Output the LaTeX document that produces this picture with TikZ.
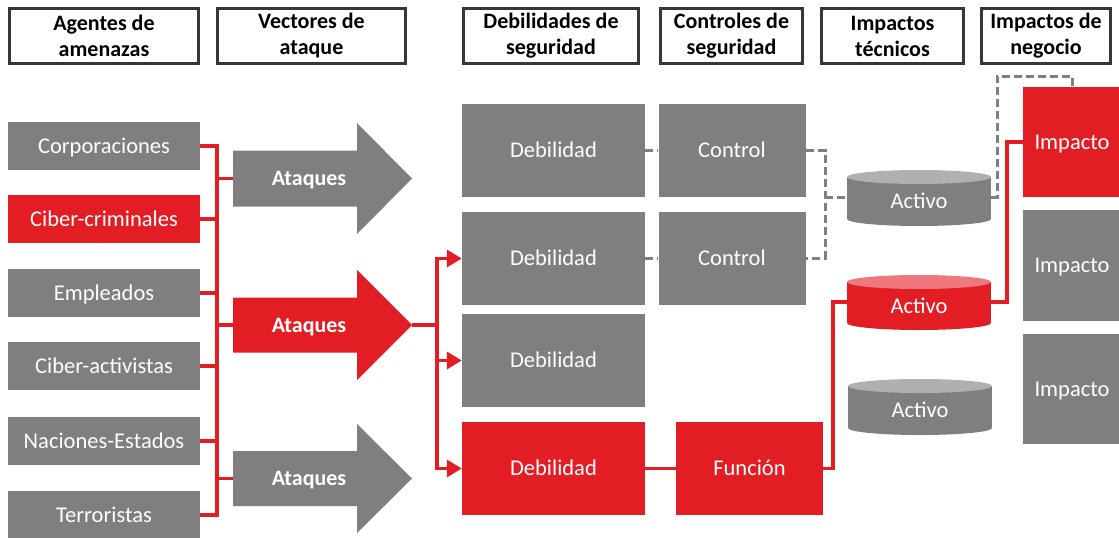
\documentclass[tikz,border=0pt]{standalone}
\usepackage{fontspec}
\setmainfont{Carlito}
\usetikzlibrary{arrows.meta}
\definecolor{cgray}{RGB}{127,127,127}
\definecolor{cred}{RGB}{226,30,36}
\definecolor{cgraytop}{RGB}{176,176,176}
\definecolor{credtop}{RGB}{238,120,125}
\definecolor{chdr}{RGB}{55,55,55}
\begin{document}
\begin{tikzpicture}[x=1pt,y=-1pt,
  hdr/.style={draw=chdr,line width=3pt,fill=white,text=black,font=\fontsize{22}{26}\selectfont\bfseries,align=center,inner sep=0pt},
  gbox/.style={fill=cgray,text=white,font=\fontsize{22.5}{27}\selectfont,inner sep=0pt,text height=14.5pt,text depth=0pt},
  rbox/.style={gbox,fill=cred},
  atext/.style={text=white,font=\fontsize{22}{26}\selectfont\bfseries,inner sep=0pt,text height=14.2pt,text depth=0pt},
  ctext/.style={text=white,font=\fontsize{22.5}{27}\selectfont,inner sep=0pt,text height=14.5pt,text depth=0pt},
  redline/.style={draw=cred,line width=3.5pt},
  redarrow/.style={redline,-{Triangle[length=15pt,width=17pt]}},
  dashline/.style={draw=cgray,line width=3pt,dash pattern=on 8pt off 4pt},
]
\useasboundingbox (0,0) rectangle (1119,538);

% headers
\node[hdr,minimum width=189pt,minimum height=55pt] (h1) at (104,36) {Agentes de\\amenazas};
\node[hdr,minimum width=188pt,minimum height=55pt] (h2) at (311.5,36) {Vectores de\\ataque};
\node[hdr,minimum width=175pt,minimum height=55pt] (h3) at (551,36) {Debilidades de\\seguridad};
\node[hdr,minimum width=142pt,minimum height=55pt] (h4) at (731.5,36) {Controles de\\seguridad};
\node[hdr,minimum width=142pt,minimum height=55pt] (h5) at (892.5,36) {Impactos\\técnicos};
\node[hdr,minimum width=129pt,minimum height=55pt] (h6) at (1046,36) {Impactos de\\negocio};

% agents
\node[gbox,minimum width=192pt,minimum height=48pt] (l1) at (104,146) {Corporaciones};
\node[rbox,minimum width=192pt,minimum height=48pt] (l2) at (104,219) {Ciber-criminales};
\node[gbox,minimum width=192pt,minimum height=48pt] (l3) at (104,293) {Empleados};
\node[gbox,minimum width=192pt,minimum height=48pt] (l4) at (104,366) {Ciber-activistas};
\node[gbox,minimum width=192pt,minimum height=48pt] (l5) at (104,441) {Naciones-Estados};
\node[gbox,minimum width=192pt,minimum height=48pt] (l6) at (104,515) {Terroristas};

% attack arrows
\fill[cgray] (233,150.5) -- (357,150.5) -- (357,123) -- (412,178.5) -- (357,234) -- (357,206.5) -- (233,206.5) -- cycle;
\node[atext] (v1) at (309,178.5) {Ataques};
\coordinate (v1l) at (233,178.5);
\fill[cred] (233,297.5) -- (357,297.5) -- (357,270) -- (412,325) -- (357,380) -- (357,352.5) -- (233,352.5) -- cycle;
\node[atext] (v2) at (309,325) {Ataques};
\coordinate (v2l) at (233,325);
\coordinate (v2t) at (412,325);
\fill[cgray] (233,451) -- (357,451) -- (357,424) -- (412,478.5) -- (357,533) -- (357,506) -- (233,506) -- cycle;
\node[atext] (v3) at (309,478.5) {Ataques};
\coordinate (v3l) at (233,478.5);

% bus left
\coordinate (bt) at (217,146);
\coordinate (bb) at (217,515);
\draw[redline] (l1.east) -- (bt) -- (bb) -- (l6.east);
\foreach \n in {l2,l3,l4,l5} \draw[redline] (\n.east) -- (\n.east -| bt);
\foreach \n in {v1l,v2l,v3l} \draw[redline] (\n -| bt) -- (\n);

% weaknesses / controls
\node[gbox,minimum width=183pt,minimum height=93pt] (d1) at (553.5,150.5) {Debilidad};
\node[gbox,minimum width=183pt,minimum height=93pt] (d2) at (553.5,258.5) {Debilidad};
\node[gbox,minimum width=183pt,minimum height=93pt] (d3) at (553.5,360.5) {Debilidad};
\node[rbox,minimum width=183pt,minimum height=93pt] (d4) at (553.5,468.5) {Debilidad};
\node[gbox,minimum width=147pt,minimum height=93pt] (c1) at (732,150.5) {Control};
\node[gbox,minimum width=147pt,minimum height=93pt] (c2) at (732,258.5) {Control};
\node[rbox,minimum width=147pt,minimum height=93pt] (f) at (749.5,468.5) {Función};

\coordinate (b2) at (437,325);
\draw[redline] (v2t) -- (b2);
\draw[redarrow] (b2) |- (d2.west);
\draw[redarrow] (b2) |- (d3.west);
\draw[redarrow] (b2) |- (d4.west);
\draw[redline] (d4.east) -- (f.west);

\draw[dashline] (d1.east) -- (c1.west);
\draw[dashline] (d2.east) -- (c2.west);
\coordinate (jc) at (825,197);
\draw[dashline] (c1.east) -| (jc) |- (c2.east);

% assets (cylinders)
\fill[cgray] (847,177) rectangle (991,219);
\fill[cgray] (919,219) ellipse [x radius=72pt,y radius=7pt];
\fill[cgraytop] (919,177) ellipse [x radius=72pt,y radius=7pt];
\node[ctext,minimum width=144pt,minimum height=42pt] (a1) at (919,201.5) {Activo};
\coordinate (a1w) at (847,197);
\coordinate (a1e) at (991,197);

\fill[cred] (847,282) rectangle (991,323);
\fill[cred] (919,323) ellipse [x radius=72pt,y radius=7pt];
\fill[credtop] (919,282) ellipse [x radius=72pt,y radius=7pt];
\node[ctext,minimum width=144pt,minimum height=42pt] (a2) at (919,306) {Activo};
\coordinate (a2w) at (847,302);
\coordinate (a2e) at (991,302);

\fill[cgray] (848,386) rectangle (992,428);
\fill[cgray] (920,428) ellipse [x radius=72pt,y radius=7pt];
\fill[cgraytop] (920,386) ellipse [x radius=72pt,y radius=7pt];
\node[ctext,minimum width=144pt,minimum height=42pt] (a3) at (920,410) {Activo};

\draw[dashline] (jc) -- (a1w);

% business impacts
\node[rbox,minimum width=98pt,minimum height=110pt] (i1) at (1072,142) {Impacto};
\node[gbox,minimum width=98pt,minimum height=111pt] (i2) at (1072,265.5) {Impacto};
\node[gbox,minimum width=98pt,minimum height=110pt] (i3) at (1072,389) {Impacto};

\draw[dashline] (a1e) -| (997,76) -| (i1.north);
\draw[redline] (f.east) -| (833,302) -- (a2w);
\draw[redline] (a2e) -| (1007,142) -- (i1.west);
\end{tikzpicture}
\end{document}
